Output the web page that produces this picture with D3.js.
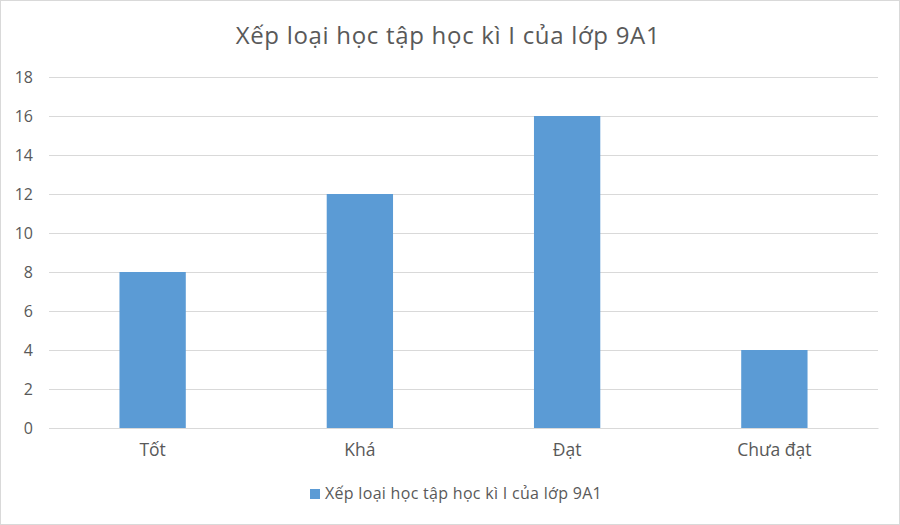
<!DOCTYPE html>
<html><head><meta charset="utf-8">
<script src="https://cdn.jsdelivr.net/npm/d3@7"></script>
<style>body{margin:0;background:#fff}svg{display:block}</style>
</head><body>
<script>
const categories = ["Tốt", "Khá", "Đạt", "Chưa đạt"];
const values = [8, 12, 16, 4];
const yTicks = [0, 2, 4, 6, 8, 10, 12, 14, 16, 18];
const seriesName = "Xếp loại học tập học kì I của lớp 9A1";
const title = "Xếp loại học tập học kì I của lớp 9A1";

const W = 900, H = 525;
const font = "'Open Sans', 'Noto Sans', sans-serif";
const svg = d3.select("body").append("svg").attr("width", W).attr("height", H);
svg.append("rect").attr("x", 0.5).attr("y", 0.5).attr("width", W - 1).attr("height", H - 1)
  .attr("fill", "#fff").attr("stroke", "#d9d9d9");

const m = {left: 49, right: 22, top: 77, bottom: 97};
const x = d3.scaleBand().domain(categories).range([m.left, W - m.right]).paddingInner(0.68).paddingOuter(0.34);
const y = d3.scaleLinear().domain([0, 18]).range([H - m.bottom, m.top]);

// gridlines
const gy = svg.append("g").attr("transform", `translate(${m.left},0)`)
  .call(d3.axisLeft(y).tickValues(yTicks).tickSize(-(W - m.right - m.left)).tickFormat(d3.format("d")).tickPadding(16));
gy.select(".domain").remove();
gy.selectAll(".tick line").attr("stroke", "#d9d9d9").attr("stroke-width", 1);
gy.selectAll(".tick text").attr("fill", "#595959").style("font-size", "16px").style("font-family", font);

svg.append("g").selectAll("rect").data(values).join("rect")
  .attr("x", (d, i) => x(categories[i])).attr("width", x.bandwidth())
  .attr("y", d => y(d)).attr("height", d => y(0) - y(d))
  .attr("fill", "#5b9bd5");

const gx = svg.append("g").attr("transform", `translate(0,${y(0)})`)
  .call(d3.axisBottom(x).tickSize(0).tickPadding(16));
gx.select(".domain").attr("stroke", "#d9d9d9");
gx.selectAll(".tick text").attr("fill", "#595959").style("font-size", "17.5px").style("font-family", font);

svg.append("text").attr("x", 448).attr("y", 44).attr("text-anchor", "middle")
  .attr("fill", "#595959").style("font-size", "24px").style("letter-spacing", "0.7px")
  .style("font-family", font).text(title);

// legend
const lg = svg.append("g").attr("transform", "translate(310,489)");
lg.append("rect").attr("x", 0).attr("y", 0).attr("width", 10).attr("height", 10).attr("fill", "#5b9bd5");
lg.append("text").attr("x", 15).attr("y", 9.5).attr("fill", "#595959")
  .style("font-size", "16px").style("font-family", font).style("letter-spacing", "0.3px").text(seriesName);
</script>
</body></html>
